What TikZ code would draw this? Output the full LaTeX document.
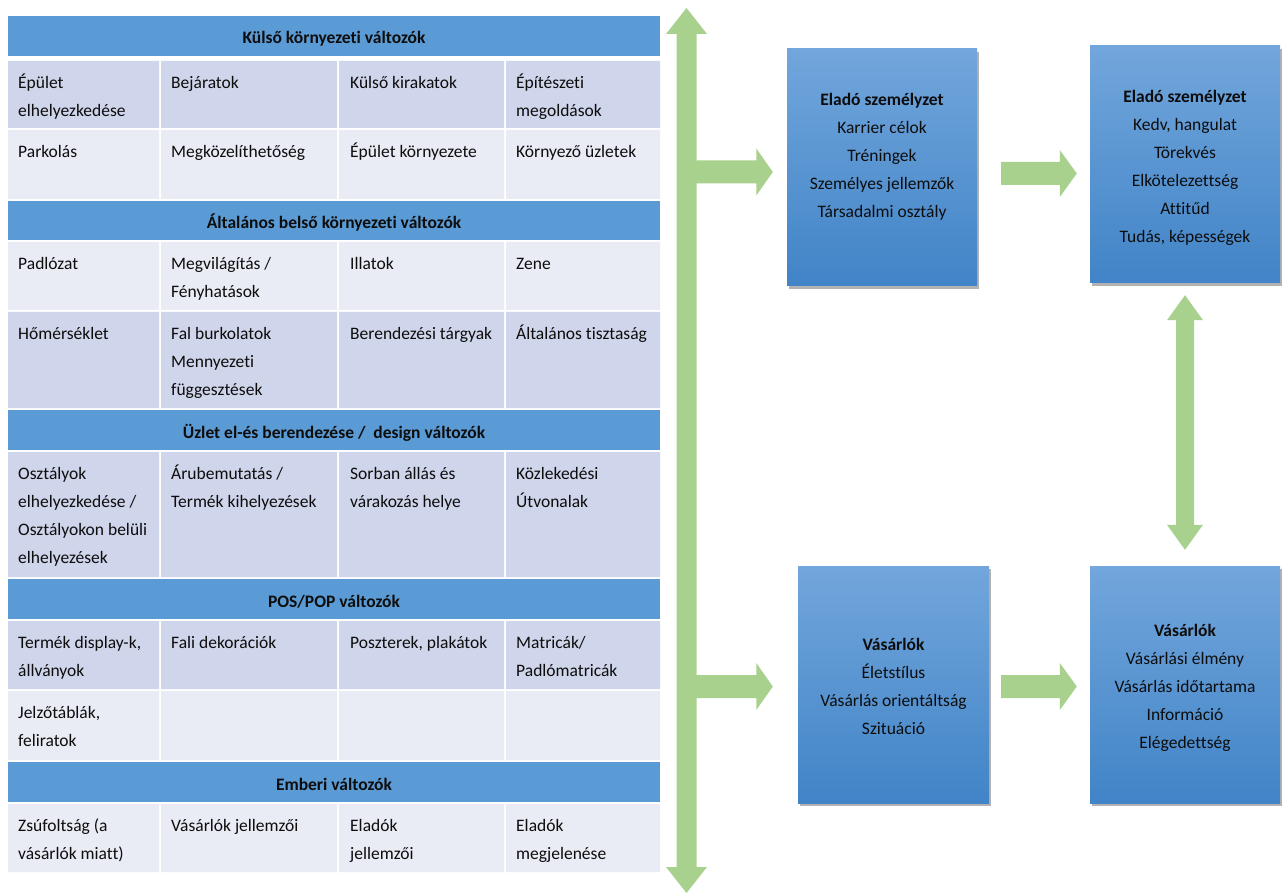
\documentclass[tikz,border=0pt]{standalone}
\usepackage{fontspec}
\setmainfont{Carlito}[Ligatures={NoCommon}]
\usetikzlibrary{calc,shadows}

\definecolor{hdrblue}{RGB}{91,155,213}
\definecolor{banddark}{RGB}{207,213,234}
\definecolor{bandlight}{RGB}{233,235,245}
\definecolor{arrowgreen}{RGB}{169,209,142}
\definecolor{boxtop}{RGB}{114,166,220}
\definecolor{boxbottom}{RGB}{65,132,199}
\definecolor{inktext}{RGB}{13,13,13}

% struts that fix the first baseline of table cells and the text block of the boxes
\newcommand\cstrut{\rule{0pt}{22pt}}
\newcommand\bstrut{\rule[-5.5pt]{0pt}{27.5pt}}

% one banded table row with its four cells
\newcommand\bandrow[3]{\fill[#3] (8,#1) rectangle (159,#2) (161,#1) rectangle (337,#2)
  (339,#1) rectangle (504,#2) (506,#1) rectangle (660,#2);}
% a full-width header row with centred bold title
\newcommand\hdrband[4]{\fill[hdrblue] (8,#2) rectangle (660,#3);
  \node[hdrtext] (#1) at (334,#2+28) {#4};}
% text of one cell, top-left aligned
\newcommand\ctext[4]{\node[celltext] (#1) at (#2,#3+5) {\cstrut#4};}
% horizontal block arrow: tail, tip, shaft half width, head half width, head length
\newcommand\harrow[5]{\fill[arrowgreen] let \p1=(#1), \p2=(#2) in
  (\x1,\y1+#3) -- (\x2-#5,\y1+#3) -- (\x2-#5,\y1+#4) -- (\x2,\y1)
  -- (\x2-#5,\y1-#4) -- (\x2-#5,\y1-#3) -- (\x1,\y1-#3) -- cycle;}
% vertical double block arrow: top tip, bottom tip, shaft half width, head half width, head length
\newcommand\vdarrow[5]{\fill[arrowgreen] let \p1=(#1), \p2=(#2) in
  (\x1,\y1) -- (\x1+#4,\y1-#5) -- (\x1+#3,\y1-#5) -- (\x1+#3,\y2+#5) -- (\x1+#4,\y2+#5)
  -- (\x1,\y2) -- (\x1-#4,\y2+#5) -- (\x1-#3,\y2+#5) -- (\x1-#3,\y1-#5) -- (\x1-#4,\y1-#5) -- cycle;}

\begin{document}
\begin{tikzpicture}[x=1pt,y=-1pt,
  every node/.style={font=\fontsize{17.5pt}{28pt}\selectfont, text=inktext},
  hdrtext/.style={anchor=base, inner sep=0pt, font=\fontsize{17.5pt}{28pt}\selectfont\bfseries},
  celltext/.style={anchor=north west, inner sep=0pt, align=left},
  infobox/.style={rectangle, inner sep=0pt, align=center, minimum width=190pt,
    minimum height=237pt, top color=boxtop, bottom color=boxbottom,
    drop shadow={shadow xshift=1.5pt, shadow yshift=-3pt, fill=black, opacity=0.3}},
]
\useasboundingbox (0,0) rectangle (1283,893);
\fill[white] (0,0) rectangle (1283,893);

% ---------- table of store variables ----------
\hdrband{h1}{16}{56}{Külső környezeti változók}
\bandrow{61}{128}{banddark}
\ctext{r1a}{18}{61}{Épület\\elhelyezkedése}
\ctext{r1b}{171}{61}{Bejáratok}
\ctext{r1c}{350}{61}{Külső kirakatok}
\ctext{r1d}{516}{61}{Építészeti\\megoldások}
\bandrow{130}{199}{bandlight}
\ctext{r2a}{18}{130}{Parkolás}
\ctext{r2b}{171}{130}{Megközelíthetőség}
\ctext{r2c}{350}{130}{Épület környezete}
\ctext{r2d}{516}{130}{Környező üzletek}

\hdrband{h2}{201}{240}{Általános belső környezeti változók}
\bandrow{242}{310}{bandlight}
\ctext{r3a}{18}{242}{Padlózat}
\ctext{r3b}{171}{242}{Megvilágítás /\\Fényhatások}
\ctext{r3c}{350}{242}{Illatok}
\ctext{r3d}{516}{242}{Zene}
\bandrow{312}{408}{banddark}
\ctext{r4a}{18}{312}{Hőmérséklet}
\ctext{r4b}{171}{312}{Fal burkolatok\\Mennyezeti\\függesztések}
\ctext{r4c}{350}{312}{Berendezési tárgyak}
\ctext{r4d}{516}{312}{Általános tisztaság}

\hdrband{h3}{410}{450}{Üzlet el-és berendezése /\ \ design változók}
\bandrow{452}{577}{banddark}
\ctext{r5a}{18}{452}{Osztályok\\elhelyezkedése /\\Osztályokon belüli\\elhelyezések}
\ctext{r5b}{171}{452}{Árubemutatás /\\Termék kihelyezések}
\ctext{r5c}{350}{452}{Sorban állás és\\várakozás helye}
\ctext{r5d}{516}{452}{Közlekedési\\Útvonalak}

\hdrband{h4}{579}{619}{POS/POP változók}
\bandrow{621}{689}{banddark}
\ctext{r6a}{18}{621}{Termék display-k,\\állványok}
\ctext{r6b}{171}{621}{Fali dekorációk}
\ctext{r6c}{350}{621}{Poszterek, plakátok}
\ctext{r6d}{516}{621}{Matricák/\\Padlómatricák}
\bandrow{691}{760}{bandlight}
\ctext{r7a}{18}{691}{Jelzőtáblák,\\feliratok}

\hdrband{h5}{762}{802}{Emberi változók}
\bandrow{804}{872}{bandlight}
\ctext{r8a}{18}{804}{Zsúfoltság (a\\vásárlók miatt)}
\ctext{r8b}{171}{804}{Vásárlók jellemzői}
\ctext{r8c}{350}{804}{Eladók\\jellemzői}
\ctext{r8d}{516}{804}{Eladók\\megjelenése}

% ---------- boxes ----------
\node[infobox] (sales1) at (882,167.5)
  {\bstrut\textbf{Eladó személyzet}\\Karrier célok\\Tréningek\\Személyes jellemzők\\Társadalmi osztály\\\bstrut};
\node[infobox] (sales2) at (1185,164.5)
  {\bstrut\textbf{Eladó személyzet}\\Kedv, hangulat\\Törekvés\\Elkötelezettség\\Attitűd\\Tudás, képességek\bstrut};
\node[infobox, minimum width=191pt] (buyers1) at (893.5,684.5)
  {\bstrut\textbf{Vásárlók}\\Életstílus\\Vásárlás orientáltság\\Szituáció\bstrut};
\node[infobox] (buyers2) at (1185,684.5)
  {\bstrut\textbf{Vásárlók}\\Vásárlási élmény\\Vásárlás időtartama\\Információ\\Elégedettség\bstrut};

% ---------- green block arrows ----------
\coordinate (trunkTop) at (686.5,8);
\coordinate (trunkBot) at (686.5,893);
\coordinate (branchUp) at (686.5,172);
\coordinate (branchLow) at (686.5,686.5);
\coordinate (tipUp) at ($(sales1.west |- branchUp)+(-14,0)$);
\coordinate (tipLow) at ($(buyers1.west |- branchLow)+(-25,0)$);
\coordinate (midUpS) at ($(sales1.east)+(24,6)$);
\coordinate (midUpE) at ($(sales2.west |- midUpS)+(-13,0)$);
\coordinate (midLowS) at ($(buyers1.east)+(12,2)$);
\coordinate (midLowE) at ($(buyers2.west |- midLowS)+(-13,0)$);
\coordinate (rightTop) at ($(sales2.south)+(0,12)$);
\coordinate (rightBot) at ($(buyers2.north)+(0,-16)$);

\vdarrow{trunkTop}{trunkBot}{10pt}{20.5pt}{26pt}
\harrow{branchUp}{tipUp}{11.5pt}{23.5pt}{16.5pt}
\harrow{branchLow}{tipLow}{11.5pt}{23.5pt}{16.5pt}
\harrow{midUpS}{midUpE}{11.5pt}{23.5pt}{17pt}
\harrow{midLowS}{midLowE}{11.5pt}{23.5pt}{17pt}
\vdarrow{rightTop}{rightBot}{9pt}{18pt}{25pt}
\end{tikzpicture}
\end{document}
